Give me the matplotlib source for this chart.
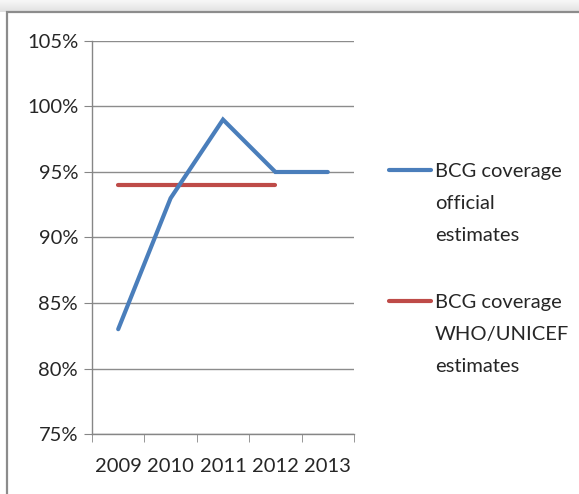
import matplotlib
matplotlib.use("Agg")
import matplotlib.pyplot as plt
import numpy as np
from matplotlib.lines import Line2D
from matplotlib.patches import Rectangle

years = ["2009", "2010", "2011", "2012", "2013"]
official = [83, 93, 99, 95, 95]
who_unicef = [94, 94, 94, 94]
yticks = [75, 80, 85, 90, 95, 100, 105]
labels = [["BCG coverage", "official", "estimates"], ["BCG coverage", "WHO/UNICEF", "estimates"]]
colors = ["#4a7ebb", "#be4b48"]

plt.rcParams['font.family'] = ['Lato', 'DejaVu Sans']
FS = 14.5
W, H = 579, 494
fig = plt.figure(figsize=(W/100, H/100), dpi=100)

# top shadow gradient
gax = fig.add_axes([0, 1 - 12/H, 1, 12/H])
grad = np.linspace(0.97, 0.88, 50).reshape(-1, 1)
gax.imshow(grad, aspect='auto', cmap='gray', vmin=0, vmax=1, extent=[0, 1, 0, 1])
gax.axis('off')

# chart border
fig.patches.append(Rectangle((7/W, -0.1), 1.2, (1 - 12/H) + 0.1, transform=fig.transFigure,
                             fill=False, edgecolor='#8c8c8c', linewidth=1.6, zorder=5))

ax = fig.add_axes([92/W, 1 - 434/H, (354 - 92)/W, (434 - 41)/H])
x = np.arange(len(years))
ax.plot(x, official, color=colors[0], lw=3.0, solid_capstyle='round', solid_joinstyle='miter', zorder=3)
ax.plot(x[:len(who_unicef)], who_unicef, color=colors[1], lw=3.0, solid_capstyle='round', zorder=2)

ax.set_xlim(-0.5, len(years) - 0.5)
ax.set_ylim(75, 105)
ax.set_yticks(yticks)
ax.set_yticklabels([f"{v}%" for v in yticks], fontsize=FS, color='#262626')
ax.set_xticks(x)
ax.set_xticklabels(years, fontsize=FS, color='#262626')
ax.set_xticks(np.arange(-0.5, len(years), 1), minor=True)
ax.tick_params(axis='x', which='major', length=0, pad=17)
ax.tick_params(axis='x', which='minor', length=6, color='#868686', direction='out')
ax.tick_params(axis='y', length=6, color='#868686', direction='out', pad=4)
ax.grid(axis='y', color='#8c8c8c', lw=1.0)
ax.set_axisbelow(True)
for s in ['top', 'right']:
    ax.spines[s].set_visible(False)
for s in ['left', 'bottom']:
    ax.spines[s].set_color('#868686')
    ax.spines[s].set_linewidth(1.0)

# legend
entries_y = [170, 301]
for lines, c, yy in zip(labels, colors, entries_y):
    fy = 1 - yy/H
    fig.add_artist(Line2D([389/W, 431/W], [fy, fy], color=c, lw=3.0, solid_capstyle='round',
                          transform=fig.transFigure))
    for i, t in enumerate(lines):
        fig.text(435/W, 1 - (yy + 32*i)/H, t, fontsize=FS, color='#262626', va='center_baseline',
                 ha='left', transform=fig.transFigure)

fig.savefig("out.png", dpi=100)
